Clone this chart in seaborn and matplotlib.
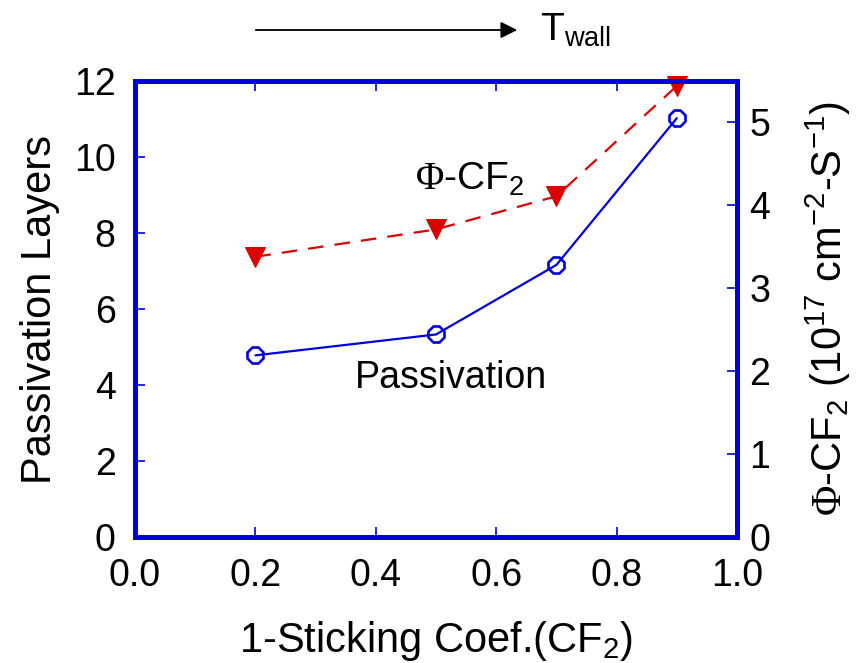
import matplotlib
matplotlib.use("Agg")
import matplotlib.pyplot as plt
import seaborn as sns
import pandas as pd
from matplotlib import font_manager

# ---- data ----
sticking = [0.2, 0.5, 0.7, 0.9]
passivation_layers = [4.78, 5.33, 7.16, 11.02]
phi_cf2 = [3.38, 3.71, 4.11, 5.44]
x_ticks = [0.0, 0.2, 0.4, 0.6, 0.8, 1.0]
left_ticks = [0, 2, 4, 6, 8, 10, 12]
right_ticks = [0, 1, 2, 3, 4, 5]

sns.set_style("white")
names = {f.name for f in font_manager.fontManager.ttflist}
sans = "Liberation Sans" if "Liberation Sans" in names else "DejaVu Sans"
plt.rcParams["font.family"] = [sans, "DejaVu Sans"]
plt.rcParams["text.color"] = "black"
plt.rcParams["axes.labelcolor"] = "black"
plt.rcParams["mathtext.fontset"] = "custom"
plt.rcParams["mathtext.rm"] = sans
plt.rcParams["mathtext.it"] = sans
plt.rcParams["mathtext.cal"] = "Liberation Serif"

BLUE = "#0000DC"
RED = "#DC0000"

df = pd.DataFrame({"x": sticking, "pas": passivation_layers, "phi": phi_cf2})

fig = plt.figure(figsize=(8.56, 6.63), dpi=100)
ax = fig.add_axes([135/856, 1-537/663, (737-135)/856, (537-81)/663])
ax2 = ax.twinx()

sns.lineplot(data=df, x="x", y="pas", ax=ax, color=BLUE, lw=1.6,
             marker="8", markersize=13, markerfacecolor="none",
             markeredgecolor=BLUE, markeredgewidth=1.9)
sns.lineplot(data=df, x="x", y="phi", ax=ax2, color=RED, lw=1.6,
             linestyle=(0, (7, 5)), marker="v", markersize=15,
             markerfacecolor=RED, markeredgecolor=RED, clip_on=False)

ax.set_xlim(0, 1.0)
ax.set_ylim(0, 12)
ax2.set_ylim(0, 5.5)
ax.set_xticks(x_ticks)
ax.set_xticklabels([f"{t:.1f}" for t in x_ticks])
ax.set_yticks(left_ticks)
ax.set_yticklabels([str(t) for t in left_ticks])
ax2.set_yticks(right_ticks)
ax2.set_yticklabels([str(t) for t in right_ticks])

for a in (ax, ax2):
    for s in a.spines.values():
        s.set_color(BLUE)
        s.set_linewidth(3.6)
        s.set_visible(True)
    a.tick_params(direction="in", length=7, width=1.2, color=BLUE,
                  labelsize=27, labelcolor="black")
ax.tick_params(axis="x", top=True, bottom=True, pad=15)
ax.tick_params(axis="y", left=True, right=False, pad=14)
ax2.tick_params(axis="y", right=True, left=False, pad=9)

ax.set_xlabel("1-Sticking Coef.(CF$_2$)", fontsize=30, labelpad=18)
ax.set_ylabel("Passivation Layers", fontsize=30, labelpad=10)
ax2.set_ylabel(r"$\mathcal{\Phi}$-CF$_2$ (10$^{17}$ cm$^{-2}$-S$^{-1}$)",
               fontsize=30, labelpad=24)

ax.text(0.556, 9.4, r"$\mathcal{\Phi}$-CF$_2$", fontsize=28,
        ha="center", va="center")
ax.text(0.525, 4.18, "Passivation", fontsize=27,
        ha="center", va="center")

# top arrow with T_wall
fig.patches.append(matplotlib.patches.FancyArrowPatch(
    (253/856, 1-30/663), (520/856, 1-30/663), transform=fig.transFigure,
    arrowstyle="-|>", mutation_scale=25, color="black", lw=1.3))
fig.text(540/856, 1-30/663, "T$_{\\rm wall}$", fontsize=28,
         ha="left", va="center")

fig.savefig("out.png", dpi=100)
